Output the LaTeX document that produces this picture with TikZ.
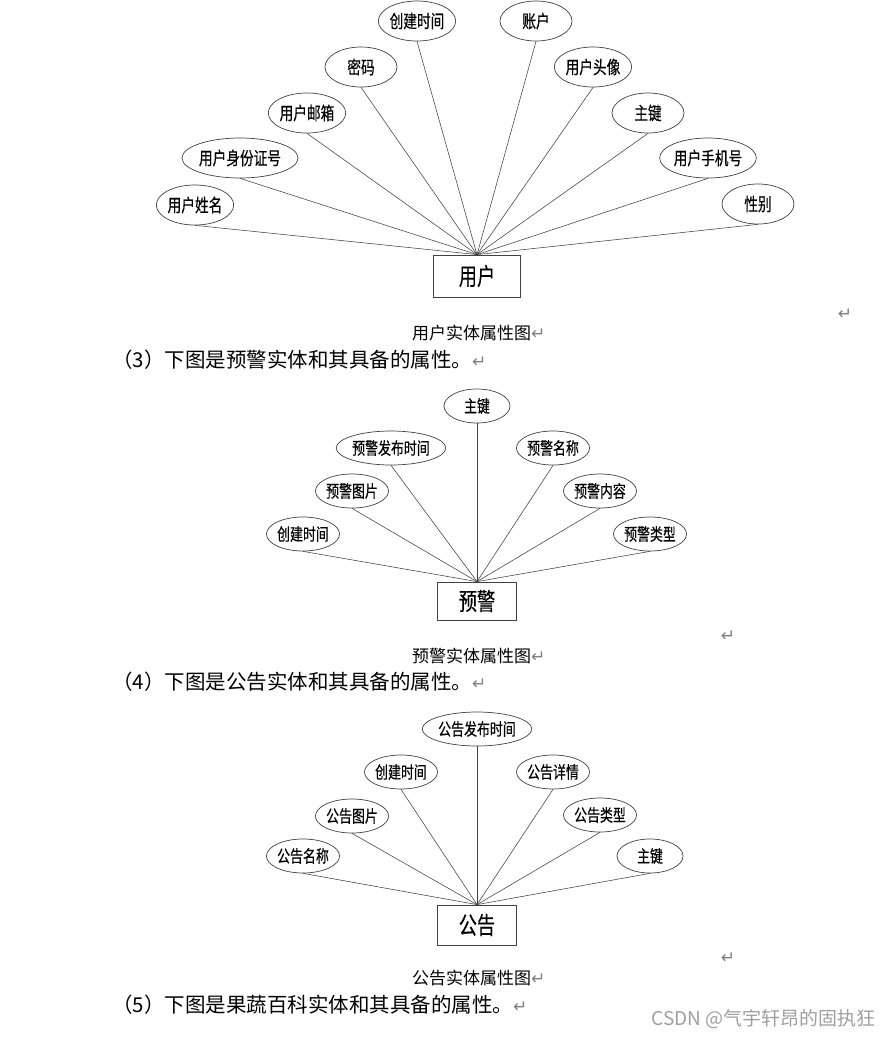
\documentclass[tikz,border=0pt]{standalone}
\usepackage{fontspec}
\usetikzlibrary{shapes.geometric}
\newfontfamily\cjk{Noto Sans CJK SC}
\newfontfamily\cjkn[FakeStretch=0.76, FakeBold=0.3]{Noto Sans CJK SC}
\newfontfamily\sym{DejaVu Sans}
\definecolor{edgegray}{HTML}{404040}
\newcommand{\retmark}{{\color{gray}\sym\fontsize{17}{17}\selectfont ↵}}
\tikzset{
  attr/.style={ellipse, draw=edgegray, line width=0.7pt, inner sep=0pt, minimum height=34pt, font=\cjkn\fontsize{17}{17}\selectfont},
  ent/.style={rectangle, draw=edgegray, line width=0.8pt, inner sep=0pt, font=\cjkn\fontsize{24}{24}\selectfont},
  link/.style={edgegray, line width=0.55pt},
  figcap/.style={anchor=west, inner sep=0pt, font=\cjk\fontsize{17}{17}\selectfont},
  para/.style={anchor=west, inner sep=0pt, font=\cjk\fontsize{20.5}{20.5}\selectfont},
  ret/.style={inner sep=0pt, text=gray, font=\sym\fontsize{17}{17}\selectfont}
}
\begin{document}
\begin{tikzpicture}[x=1pt, y=-1pt]
    \useasboundingbox (0,0) rectangle (890,1037);
    % user entity
    \node[ent, minimum width=87pt, minimum height=42pt] (user) at (477,276) {用户};
    \foreach \i/\x/\y/\w/\t in {1/195/205/74/用户姓名, 2/240/158/96/用户身份证号, 3/307/113/74/用户邮箱,
        4/361/67/72/密码, 5/417/21/74/创建时间, 6/536/21/72/账户, 7/593/67/72/用户头像,
        8/648/113/72/主键, 9/708/158/82/用户手机号, 10/758/204/72/性别} {
        \node[attr, minimum width=\w pt, minimum height=40pt, font=\cjkn\fontsize{18}{18}\selectfont] (u\i) at (\x,\y) {\t};
        \draw[link] (u\i.south) -- (user.north);
    }
    \node[ret] (r1) at (845,314) {↵};
    \node[figcap] (cap1) at (412,333) {用户实体属性图\retmark};
    \node[para] (p3) at (112,360) {（3）下图是预警实体和其具备的属性。\retmark};
    % warning entity
    \node[ent, minimum width=79pt, minimum height=38pt] (warn) at (477,601) {预警};
    \foreach \i/\x/\y/\w/\t in {1/303/534/68/创建时间, 2/352/491/66/预警图片, 3/391/448/88/预警发布时间,
        4/477/406/66/主键, 5/553/448/66/预警名称, 6/600/491/64/预警内容, 7/650/534/66/预警类型} {
        \node[attr, minimum width=\w pt] (w\i) at (\x,\y) {\t};
        \draw[link] (w\i.south) -- (warn.north);
    }
    \node[ret] (r2) at (728,636) {↵};
    \node[figcap] (cap2) at (412,656) {预警实体属性图\retmark};
    \node[para] (p4) at (112,682) {（4）下图是公告实体和其具备的属性。\retmark};
    % notice entity
    \node[ent, minimum width=79pt, minimum height=40pt] (notice) at (477,925) {公告};
    \foreach \i/\x/\y/\w/\t in {1/303/856/68/公告名称, 2/352/816/66/公告图片, 3/401/772/67/创建时间,
        4/477/729/86/公告发布时间, 5/553/772/66/公告详情, 6/600/815/64/公告类型, 7/650/856/66/主键} {
        \node[attr, minimum width=\w pt] (n\i) at (\x,\y) {\t};
        \draw[link] (n\i.south) -- (notice.north);
    }
    \node[ret] (r3) at (728,958) {↵};
    \node[figcap] (cap3) at (412,978) {公告实体属性图\retmark};
    \node[para] (p5) at (112,1005) {（5）下图是果蔬百科实体和其具备的属性。\retmark};
    \node[anchor=east, inner sep=0pt, text=gray!75, font=\cjk\fontsize{19}{19}\selectfont] (mark) at (876,1019) {CSDN @气宇轩昂的固执狂};
\end{tikzpicture}
\end{document}
